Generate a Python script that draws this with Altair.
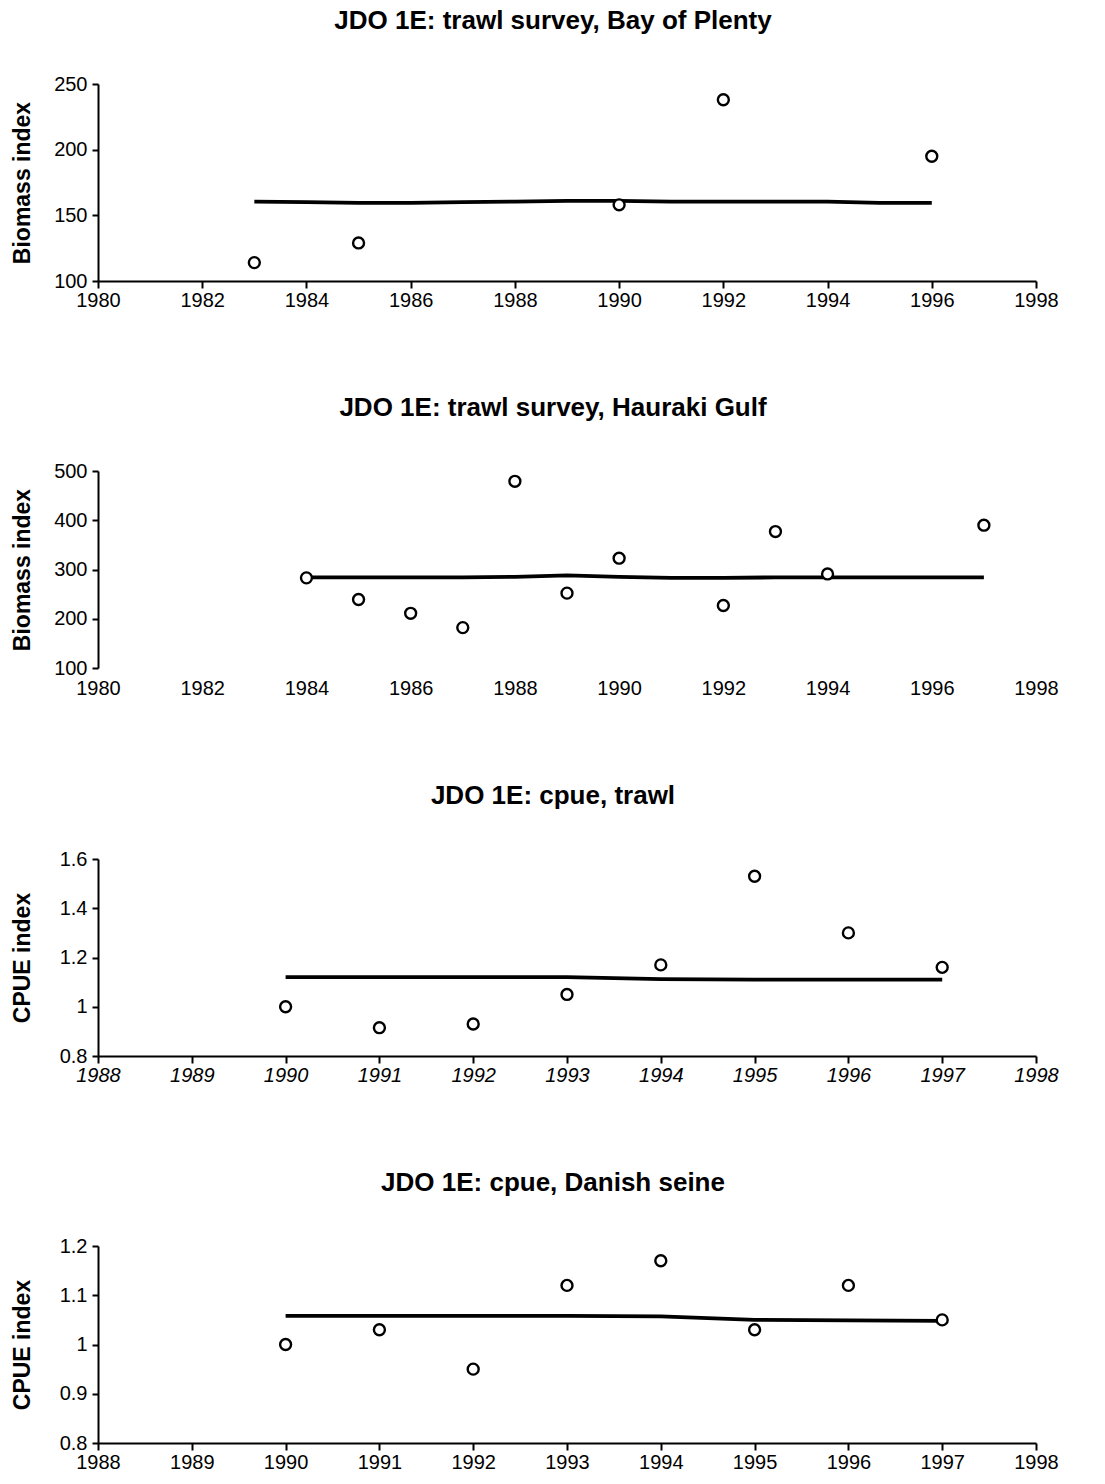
import altair as alt
import pandas as pd

FONT = "Liberation Sans"

# ---- Data ----
bop_years = [1983, 1985, 1990, 1992, 1996]
bop_obs = [114, 129, 158, 238, 195]
bop_fit_years = [1983, 1984, 1985, 1986, 1987, 1988, 1989, 1990, 1991, 1992, 1993, 1994, 1995, 1996]
bop_fit = [160.5, 160, 159.5, 159.5, 160, 160.5, 161, 161, 160.5, 160.5, 160.5, 160.5, 159.5, 159.5]

hg_years = [1984, 1985, 1986, 1987, 1988, 1989, 1990, 1992, 1993, 1994, 1997]
hg_obs = [283, 239, 211, 182, 479, 252, 323, 227, 377, 291, 390]
hg_fit_years = [1984, 1985, 1986, 1987, 1988, 1989, 1990, 1991, 1992, 1993, 1994, 1995, 1996, 1997]
hg_fit = [284, 284, 284, 284, 285, 288, 285, 283, 283, 284, 284, 284, 284, 284]

tr_years = [1990, 1991, 1992, 1993, 1994, 1995, 1996, 1997]
tr_obs = [1.00, 0.915, 0.93, 1.05, 1.17, 1.53, 1.30, 1.16]
tr_fit = [1.12, 1.12, 1.12, 1.12, 1.112, 1.11, 1.11, 1.11]

ds_years = [1990, 1991, 1992, 1993, 1994, 1995, 1996, 1997]
ds_obs = [1.00, 1.03, 0.95, 1.12, 1.17, 1.03, 1.12, 1.05]
ds_fit = [1.058, 1.058, 1.058, 1.058, 1.057, 1.050, 1.049, 1.048]

titles = [
    "JDO 1E: trawl survey, Bay of Plenty",
    "JDO 1E: trawl survey, Hauraki Gulf",
    "JDO 1E: cpue, trawl",
    "JDO 1E: cpue, Danish seine",
]
ytitles = ["Biomass index", "Biomass index", "CPUE index", "CPUE index"]
xticks_long = [1980, 1982, 1984, 1986, 1988, 1990, 1992, 1994, 1996, 1998]
xticks_short = [1988, 1989, 1990, 1991, 1992, 1993, 1994, 1995, 1996, 1997, 1998]
yticks_bop = [100, 150, 200, 250]
yticks_hg = [100, 200, 300, 400, 500]
yticks_tr = [0.8, 1.0, 1.2, 1.4, 1.6]
yticks_ds = [0.8, 0.9, 1.0, 1.1, 1.2]

W, H = 938, 197


def panel(title, ytitle, ox, oy, fx, fy, xdom, xticks, ydom, yticks, yfmt,
          xline=True, italic=False):
    obs = pd.DataFrame({"year": ox, "value": oy})
    fit = pd.DataFrame({"year": fx, "value": fy})
    xaxis = alt.Axis(
        values=xticks, format="d", title=None, grid=False,
        domain=xline, ticks=xline, tickSize=7, labelPadding=2 if xline else 10,
        labelFontSize=20, labelFont=FONT, labelColor="black",
        labelFontStyle="italic" if italic else "normal",
        domainColor="black", tickColor="black", domainWidth=2, tickWidth=2,
        labelFlush=False, labelOverlap=False,
    )
    yaxis = alt.Axis(
        values=yticks, format=yfmt, title=ytitle, grid=False,
        tickSize=6, labelPadding=5, labelFontSize=20, labelFont=FONT,
        labelColor="black", domainColor="black", tickColor="black",
        domainWidth=2, tickWidth=2, titleFont=FONT, titleFontSize=23,
        titleFontWeight="bold", titleColor="black",
        titleX=-69, titleY=H / 2, titleAngle=270, titleAlign="center",
        titleBaseline="alphabetic",
        labelFlush=False, labelOverlap=False,
    )
    xs = alt.Scale(domain=xdom, nice=False, zero=False)
    ys = alt.Scale(domain=ydom, nice=False, zero=False)
    line = alt.Chart(fit).mark_line(color="black", strokeWidth=3.8).encode(
        x=alt.X("year:Q", scale=xs, axis=xaxis),
        y=alt.Y("value:Q", scale=ys, axis=yaxis),
    )
    pts = alt.Chart(obs).mark_point(
        shape="circle", fill="white", stroke="black", strokeWidth=2.4,
        size=120, opacity=1, fillOpacity=1,
    ).encode(
        x=alt.X("year:Q", scale=xs),
        y=alt.Y("value:Q", scale=ys),
    )
    return alt.layer(line, pts).properties(
        width=W, height=H,
        title=alt.TitleParams(
            text=title, font=FONT, fontSize=26, fontWeight="bold",
            color="black", anchor="middle", offset=40, dx=-14,
        ),
    )


p1 = panel(titles[0], ytitles[0], bop_years, bop_obs, bop_fit_years, bop_fit,
           [1980, 1998], xticks_long, [100, 250], yticks_bop, "d")
p2 = panel(titles[1], ytitles[1], hg_years, hg_obs, hg_fit_years, hg_fit,
           [1980, 1998], xticks_long, [100, 500], yticks_hg, "d", xline=False)
p3 = panel(titles[2], ytitles[2], tr_years, tr_obs, tr_years, tr_fit,
           [1988, 1998], xticks_short, [0.8, 1.6], yticks_tr, "~g", italic=True)
p4 = panel(titles[3], ytitles[3], ds_years, ds_obs, ds_years, ds_fit,
           [1988, 1998], xticks_short, [0.8, 1.2], yticks_ds, "~g")

chart = alt.vconcat(p1, p2, p3, p4, spacing=85).properties(
    padding={"left": 11, "top": 8, "right": 10, "bottom": 5},
    background="white",
).configure_view(stroke=None)

chart.save("out.html", embed_options={"renderer": "svg", "actions": False})
